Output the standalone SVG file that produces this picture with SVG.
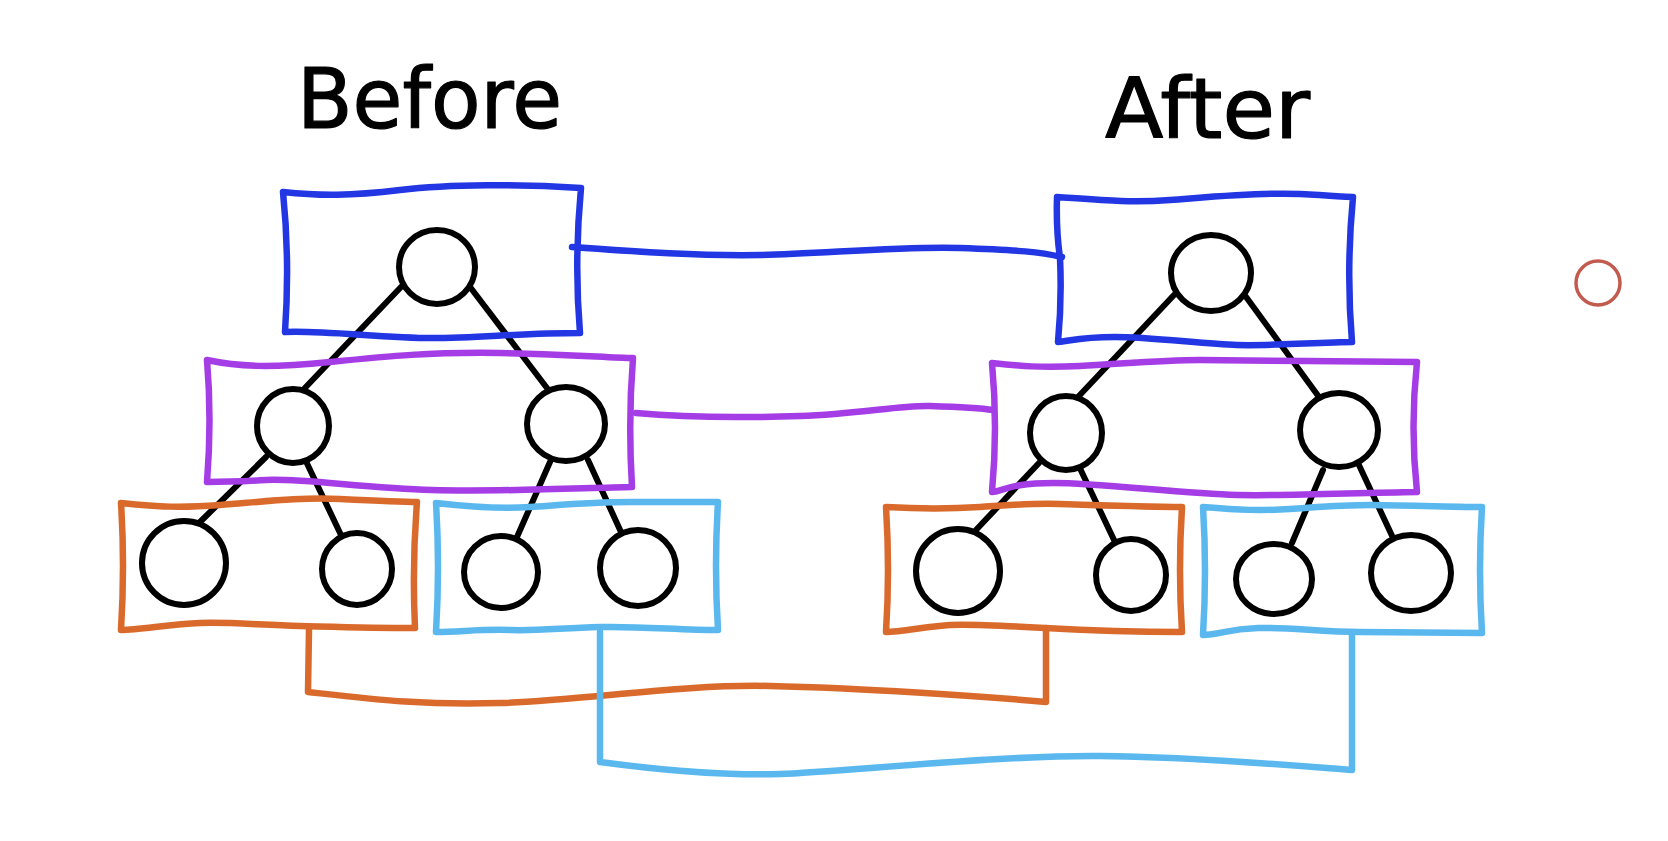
<svg xmlns="http://www.w3.org/2000/svg" width="1668" height="841" viewBox="0 0 1668 841">
  <style>
    .title { font-family: "DejaVu Sans", "Liberation Sans", sans-serif; font-size: 84px; fill: #000; stroke: #000; stroke-width: 1.2; stroke-linejoin: round; }
    .box { fill: none; stroke-width: 6.5; stroke-linejoin: round; stroke-linecap: round; }
    .node { fill: #fff; stroke: #000; stroke-width: 6; }
    .edge { stroke: #000; stroke-width: 6; stroke-linecap: round; fill: none; }
    .link { fill: none; stroke-width: 6.5; stroke-linecap: round; stroke-linejoin: round; }
    .blue { stroke: #2236e4; }
    .purple { stroke: #a53de6; }
    .orange { stroke: #d96a2c; }
    .sky { stroke: #5ab8ee; }
  </style>
  <rect width="1668" height="841" fill="#fff"/>

  <text class="title" x="297" y="128" textLength="265" lengthAdjust="spacingAndGlyphs">Before</text>
  <text class="title" x="1105" y="138" textLength="205" lengthAdjust="spacingAndGlyphs">After</text>

  <!-- links between matching levels of the two trees -->
  <g id="connectors">
    <path class="link blue" d="M572,247 C640,252 700,256 760,255 S900,246 960,248 S1040,252 1062,257"/>
    <path class="link purple" d="M636,413 C690,418 740,418 800,416 S900,405 930,406 S980,408 993,410"/>
    <path class="link orange" d="M309,630 L308,692 C380,700 420,705 500,703 S680,684 770,686 S980,696 1046,702 L1046,628"/>
    <path class="link sky" d="M600,632 L600,762 C660,770 720,776 780,774 S1000,755 1100,756 S1300,766 1352,770 L1352,633"/>
  </g>

  <!-- tree edges -->
  <g id="tree-edges">
    <line class="edge" x1="401" y1="287" x2="303" y2="390"/>
    <line class="edge" x1="467" y1="283" x2="550" y2="392"/>
    <line class="edge" x1="266" y1="457" x2="200" y2="522"/>
    <line class="edge" x1="303" y1="455" x2="341" y2="535"/>
    <line class="edge" x1="550" y1="462" x2="517" y2="537"/>
    <line class="edge" x1="588" y1="460" x2="621" y2="532"/>

    <line class="edge" x1="1174" y1="295" x2="1078" y2="397"/>
    <line class="edge" x1="1241" y1="290" x2="1319" y2="397"/>
    <line class="edge" x1="1039" y1="463" x2="976" y2="530"/>
    <line class="edge" x1="1076" y1="460" x2="1115" y2="542"/>
    <line class="edge" x1="1323" y1="470" x2="1292" y2="543"/>
    <line class="edge" x1="1358" y1="463" x2="1394" y2="540"/>
  </g>

  <!-- level boxes: before -->
  <g id="before-level-0">
    <path class="box blue" d="M283,192 C320,196 350,196 400,190 S520,184 581,188 Q574,262 580,333 C520,333 480,338 432,338 S320,330 285,332 Q290,260 283,192 Z"/>
  </g>
  <g id="before-level-1">
    <path class="box purple" d="M207,360 C240,367 270,368 330,362 S430,352 500,353 S610,358 633,358 Q628,420 632,487 C580,488 500,492 432,490 S300,478 266,480 S220,482 207,482 Q212,420 207,360 Z"/>
  </g>
  <g id="before-level-2a">
    <path class="box orange" d="M121,503 C160,507 180,508 220,505 S300,497 340,499 S400,502 417,502 Q412,565 415,628 C370,628 340,627 300,626 S230,622 200,623 S140,630 121,630 Q125,565 121,503 Z"/>
  </g>
  <g id="before-level-2b">
    <path class="box sky" d="M436,503 C470,507 500,509 530,507 S590,502 630,502 S700,502 718,502 Q714,566 718,630 C680,630 640,626 600,627 S540,631 510,630 S460,632 436,632 Q440,566 436,503 Z"/>
  </g>

  <!-- level boxes: after -->
  <g id="after-level-0">
    <path class="box blue" d="M1057,197 C1100,200 1130,203 1170,200 S1260,192 1300,194 S1340,197 1353,197 Q1346,270 1352,342 C1300,343 1270,346 1237,345 S1150,337 1115,337 S1070,341 1058,342 Q1062,300 1060,258 Q1056,230 1057,197 Z"/>
  </g>
  <g id="after-level-1">
    <path class="box purple" d="M992,363 C1020,366 1040,368 1080,366 S1160,360 1200,360 S1380,362 1417,362 Q1410,427 1417,492 C1350,493 1290,496 1237,495 S1100,483 1054,483 S1005,491 992,492 Q998,427 992,363 Z"/>
  </g>
  <g id="after-level-2a">
    <path class="box orange" d="M886,507 C920,509 950,509 980,507 S1030,503 1060,504 S1150,507 1182,507 Q1178,570 1182,632 C1130,632 1080,630 1045,628 S970,624 950,625 S900,632 886,632 Q890,570 886,507 Z"/>
  </g>
  <g id="after-level-2b">
    <path class="box sky" d="M1203,507 C1240,510 1260,511 1290,509 S1340,505 1370,505 S1450,507 1482,507 Q1478,570 1482,633 C1440,633 1400,632 1360,632 S1290,627 1258,628 S1220,635 1203,635 Q1207,570 1203,507 Z"/>
  </g>

  <!-- tree nodes: before -->
  <g id="before-root"><ellipse class="node" cx="437" cy="267" rx="38" ry="37"/></g>
  <g id="before-mid-left"><ellipse class="node" cx="293" cy="426" rx="36" ry="37"/></g>
  <g id="before-mid-right"><ellipse class="node" cx="566" cy="424" rx="39" ry="37"/></g>
  <g id="before-leaf-1"><ellipse class="node" cx="184" cy="563" rx="42" ry="42"/></g>
  <g id="before-leaf-2"><ellipse class="node" cx="357" cy="569" rx="35" ry="36"/></g>
  <g id="before-leaf-3"><ellipse class="node" cx="501" cy="572" rx="37" ry="36"/></g>
  <g id="before-leaf-4"><ellipse class="node" cx="638" cy="568" rx="38" ry="38"/></g>

  <!-- tree nodes: after -->
  <g id="after-root"><ellipse class="node" cx="1211" cy="273" rx="40" ry="38"/></g>
  <g id="after-mid-left"><ellipse class="node" cx="1066" cy="433" rx="36" ry="37"/></g>
  <g id="after-mid-right"><ellipse class="node" cx="1339" cy="430" rx="39" ry="37"/></g>
  <g id="after-leaf-1"><ellipse class="node" cx="958" cy="571" rx="42" ry="42"/></g>
  <g id="after-leaf-2"><ellipse class="node" cx="1131" cy="575" rx="35" ry="36"/></g>
  <g id="after-leaf-3"><ellipse class="node" cx="1274" cy="579" rx="38" ry="35"/></g>
  <g id="after-leaf-4"><ellipse class="node" cx="1411" cy="573" rx="40" ry="38"/></g>

  <!-- small marker circle -->
  <g id="marker">
    <circle cx="1598" cy="283" r="22" fill="none" stroke="#c25a4e" stroke-width="3.5"/>
  </g>
</svg>
